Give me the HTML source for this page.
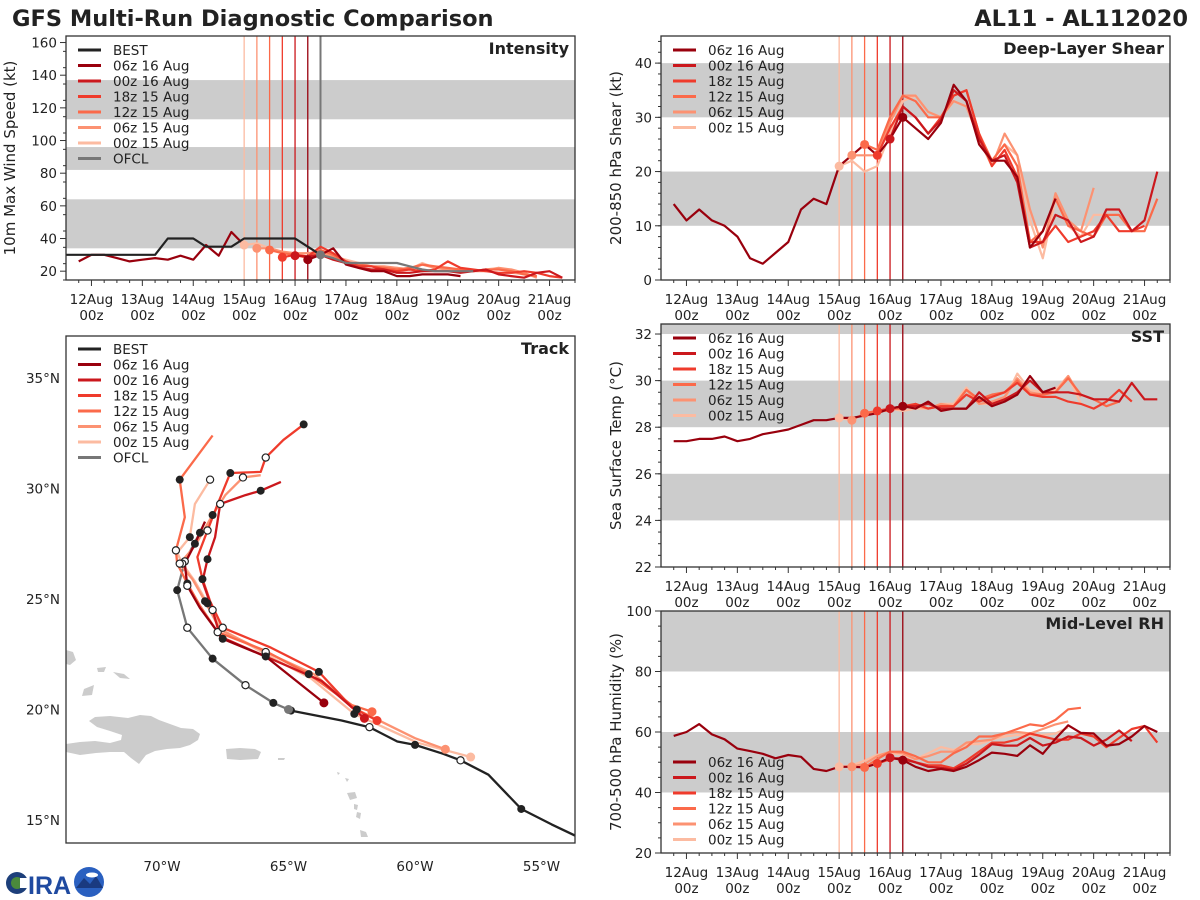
<!DOCTYPE html>
<html><head><meta charset="utf-8"><style>
html,body{margin:0;padding:0;background:#fff;}
svg{display:block;font-family:"DejaVu Sans","Liberation Sans",sans-serif;}
</style></head><body>
<svg id="chart" width="1200" height="900" viewBox="0 0 1200 900" xmlns="http://www.w3.org/2000/svg">
<text x="12" y="26" font-size="22.5" font-weight="bold" fill="#222">GFS Multi-Run Diagnostic Comparison</text>
<text x="1188" y="26" font-size="22.5" font-weight="bold" fill="#222" text-anchor="end">AL11 - AL112020</text>
<g>
<circle cx="17" cy="883" r="11" fill="#1d3f7a"/><circle cx="17" cy="883" r="6" fill="#4a8a3c"/><rect x="20" y="878" width="9" height="10" fill="#fff"/>
<text x="28" y="894" font-size="25" font-weight="bold" fill="#1f4aa0" font-family="Liberation Sans,sans-serif">IRA</text>
<circle cx="89" cy="882" r="15" fill="#2a60c0"/><path d="M76 888 L84 878 L90 884 L96 876 L103 888 Z" fill="#1a3a80"/>
<ellipse cx="92" cy="875" rx="6" ry="2.5" fill="#fff"/>
</g>
</svg>
<script>
// ---------- shared run metadata ----------
const runNames=['06z 16 Aug','00z 16 Aug','18z 15 Aug','12z 15 Aug','06z 15 Aug','00z 15 Aug'];
const runColors=['#99000d','#cb181d','#ef3b2c','#fb6a4a','#fc9272','#fcbba1'];
const runStarts=[4.25,4.0,3.75,3.5,3.25,3.0];
const xTickDays=[0,1,2,3,4,5,6,7,8,9];
const xTickLabels=['12Aug','13Aug','14Aug','15Aug','16Aug','17Aug','18Aug','19Aug','20Aug','21Aug'];

// ---------- intensity (kt), 6-hourly from start time ----------
const intHistStart=-0.25;
const intHist=[26,30,30,28,26,27,28,27,29.5,27,36,29.5,44,36];
const intBestStart=-0.5;
const intBest=[30,30,30,30,30,30,30,30,40,40,40,35,35,35,40,40,40,40,40,35,30];
const intOfclStart=4.5;
const intOfcl=[30,28,25,25,25,25,25,23,21,20,20,20,20];
const int06z16=[27,30,34,24,22,20,20,17,17,18,18,18,17];
const int00z16=[29.5,29,30,27,25,22,21,21,19,19,20,20,20,19,20,21,18,17,16,19,20,16];
const int18z15=[28.5,30,29,35,31,26,23,23,21,20,21,20,21,26,22,21,20,19,19,20,19,17,16];
const int12z15=[33,31,30,28,33,30,25,24,23,22,21,22,24,23,22,21,20,21,21,20,18,17];
const int06z15=[34,34,32,31,31,32,29,26,24,23,23,22,21,24,22,21,20,20,20,22,21,19,16];
const int00z15=[36,37,34,31,30,31,30,29,27,25,23,22,22,21,25,22,21,20,20,21,22,19,18,17];

// ---------- shear (kt) ----------
const shrHistStart=-0.25;
const shrHist=[14,11,13,11,10,8,4,3,5,7,13,15,14,21,23,25,23,26,30];
const shr06z16=[30,28,26,29,36,33,25,22,22,19,6,9,15];
const shr00z16=[26,32,30,27,29.5,35,33,26,22,23,18,6,7,12,11,7,8,13,13,9,11,20];
const shr18z15=[23,28,32,30,27,30,34,35,27,21,24,19,7,7,10,7,8,9,12,9,9,10];
const shr12z15=[25,24,30,34,33,30,30,34,35,27,22,25,21,7,9,15,10,9,8,12,12,9,9,15];
const shr06z15=[23,23,23,29,34,34,31,30,33,32,26,21,27,23,13,6,16,11,9,17];
const shr00z15=[21,22,20,21,27,33,34,31,30,33,32,27,22,25,23,11,4,15,10,8,12,12];

// ---------- SST (C) ----------
const sstHistStart=-0.25;
const sstHist=[27.4,27.4,27.5,27.5,27.6,27.4,27.5,27.7,27.8,27.9,28.1,28.3,28.3,28.4,28.4,28.5,28.6,28.8,28.9];
const sst06z16=[28.9,28.8,29.1,28.7,28.8,28.8,29.3,28.9,29.1,29.4,30.2,29.5,29.7];
const sst00z16=[28.8,28.9,28.9,29.0,28.8,28.8,28.8,29.5,29.0,29.2,29.5,30.0,29.5,29.5,29.5,29.4,29.2,29.2,29.1,29.9,29.2,29.2];
const sst18z15=[28.7,28.8,28.9,29.0,28.8,28.9,28.9,29.4,29.1,29.3,29.5,29.9,29.4,29.3,29.3,29.1,29.0,28.8,29.1,29.6,29.1];
const sst12z15=[28.6,28.7,28.8,28.8,29.0,28.8,28.9,28.9,29.6,29.2,29.4,29.5,30.0,29.4,29.4,29.5,30.1,29.4,29.2,28.9,29.1];
const sst06z15=[28.3,28.6,28.7,28.7,28.9,28.9,28.8,29.0,28.9,29.6,29.0,29.1,29.3,30.1,29.5,29.4,29.5,30.2,29.3];
const sst00z15=[28.4,28.3,28.6,28.7,28.8,28.7,28.8,28.8,29.0,29.0,29.7,29.0,29.0,29.2,30.3,29.6,29.5,29.6,30.2,29.0];

// ---------- RH (%) ----------
const rhHistStart=-0.25;
const rhHist=[58.7,60,62.6,59.2,57.6,54.5,53.7,52.8,51.3,52.4,51.8,47.8,47.1,48.5,48.5,48.3,49.6,51.5,50.7];
const rh06z16=[50.7,48.5,47.1,47.8,47.1,48.5,50.7,53.2,52.8,52.1,55.6,52.8,57.8,62.2,59.7,59.5,55.5,56,58.5,62,60];
const rh00z16=[51.5,51,50,48.5,48.2,47.5,49.5,52.5,56,55.5,55.5,58,55.5,56.5,58.5,58,55.5,57.5,60.5,57];
const rh18z15=[49.6,51,51.5,50,49,49,48,50.5,53.5,56.5,56.5,57.5,59.5,58.5,57.5,57.5,59.5,58.5,55,58,61,62,56.5];
const rh12z15=[48.3,51,53.5,53.5,52,50,50,53,55,58.5,58.5,59.5,61,62.5,62,64,67.5,68];
const rh06z15=[48.5,49.5,52,53.5,53,51,52,53.5,53.5,56.5,57,57.5,59.5,60,59.5,61,62.5,63.5];
const rh00z15=[48.5,49,50.5,52.5,53,52.5,51,53,55,54,56,56,57.5,58.5,59,59,59,59.5,61.5];

// ---------- track (lon, lat) ----------
const bestLon=[-53.5,-54.6,-55.8,-57.1,-58.2,-58.9,-60.0,-60.7,-61.8,-62.9,-64.9,-65.0];
const bestLat=[14.2,14.8,15.5,17.05,17.7,18.0,18.4,18.55,19.2,19.5,19.95,20.0];
const ofclLon=[-65.0,-65.6,-66.7,-68.0,-69.0,-69.4,-69.1,-68.5];
const ofclLat=[20.0,20.3,21.1,22.3,23.7,25.4,26.7,28.0];
const trk06z16Lon=[-63.6,-65.9,-67.6,-68.5,-69.0,-69.1,-68.7,-68.3];
const trk06z16Lat=[20.3,22.4,23.2,24.6,25.6,26.6,27.5,28.5];
const trk00z16Lon=[-62.0,-63.7,-65.9,-67.7,-68.0,-68.4,-68.2,-67.9,-67.7,-66.7,-66.1,-65.3];
const trk00z16Lat=[19.6,21.3,22.4,23.3,24.5,25.8,26.8,27.8,29.3,29.7,29.9,30.3];
const trk18z15Lon=[-61.5,-62.5,-63.8,-65.7,-67.6,-68.1,-68.4,-68.6,-68.2,-67.8,-67.3,-66.1,-65.9,-65.2,-64.4];
const trk18z15Lat=[19.5,20.1,21.7,22.8,23.7,24.9,25.9,26.9,28.1,29.3,30.7,30.75,31.4,32.2,32.9];
const trk12z15Lon=[-61.7,-62.5,-64.2,-66.0,-67.8,-68.5,-69.0,-69.4,-69.45,-69.1,-69.3,-68.0];
const trk12z15Lat=[19.9,20.2,21.6,22.7,23.5,24.7,25.7,26.6,27.2,28.7,30.4,32.4];
const trk06z15Lon=[-58.8,-60.0,-62.3,-64.0,-65.9,-67.7,-68.3,-68.8,-69.3,-68.7,-68.0,-67.5,-66.8,-66.1];
const trk06z15Lat=[18.2,18.7,20.0,21.6,22.6,23.6,24.9,25.9,26.6,27.4,28.8,29.7,30.5,30.6];
const trk00z15Lon=[-57.8,-59.9,-62.4,-64.1,-65.9,-67.6,-68.2,-68.7,-69.2,-69.4,-68.9,-68.7,-68.1];
const trk00z15Lat=[17.85,18.5,19.8,21.4,22.5,23.6,24.8,25.8,26.6,27.1,27.8,29.3,30.4];
const lonTicks=[-70,-65,-60,-55];
const latTicks=[15,20,25,30,35];

const NS='http://www.w3.org/2000/svg';
const svg=document.getElementById('chart');
function el(tag,parent){const e=document.createElementNS(NS,tag);parent.appendChild(e);return e;}

function panel(p){
  const g=el('g',svg);
  
  
  const X=t=>p.x0+(t+0.5)/10*p.w;
  const Y=v=>p.y0+p.h-(v-p.ymin)/(p.ymax-p.ymin)*p.h;
  const cid='clip-'+p.name;
  const cp=el('clipPath',g);cp.setAttribute('id',cid);
  const cr=el('rect',cp);cr.setAttribute('x',p.x0);cr.setAttribute('y',p.y0);cr.setAttribute('width',p.w);cr.setAttribute('height',p.h);
  const inner=el('g',g);inner.setAttribute('clip-path','url(#'+cid+')');
  p.bands.forEach(b=>{
    const r=el('rect',inner);
    
    
    const y1=Y(Math.min(b[1],p.ymax+5)),y2=Y(b[0]);
    r.setAttribute('x',p.x0);r.setAttribute('y',y1);r.setAttribute('width',p.w);r.setAttribute('height',y2-y1);r.setAttribute('fill','#cccccc');
  });
  runStarts.slice().reverse().forEach((t,k)=>{
    const i=runStarts.length-1-k;
    const l=el('line',inner);
    
    
    l.setAttribute('x1',X(t));l.setAttribute('x2',X(t));l.setAttribute('y1',p.y0);l.setAttribute('y2',p.y0+p.h);
    l.setAttribute('stroke',runColors[i]);l.setAttribute('stroke-width',1.3);
  });
  if(p.ofclLine!==undefined){
    const l=el('line',inner);
    
    
    l.setAttribute('x1',X(p.ofclLine));l.setAttribute('x2',X(p.ofclLine));l.setAttribute('y1',p.y0);l.setAttribute('y2',p.y0+p.h);
    l.setAttribute('stroke','#777');l.setAttribute('stroke-width',2);
  }
  function series(start,vals,color,name){
    const pl=el('polyline',inner);
    
    
    pl.setAttribute('points',vals.map((v,i)=>X(start+i*0.25).toFixed(1)+','+Y(v).toFixed(1)).join(' '));
    pl.setAttribute('fill','none');pl.setAttribute('stroke',color);pl.setAttribute('stroke-width',2.2);pl.setAttribute('stroke-linejoin','round');
  }
  function dot(t,v,color,name){
    const c=el('circle',inner);
    
    
    c.setAttribute('cx',X(t));c.setAttribute('cy',Y(v));c.setAttribute('r',4.5);c.setAttribute('fill',color);
  }
  for(let i=runStarts.length-1;i>=0;i--){series(runStarts[i],p.runs[i],runColors[i],'series-'+runNames[i].replace(/ /g,'-'));}
  if(p.hist) series(p.histStart,p.hist,runColors[0],'analysis-history-line');
  if(p.best) series(p.bestStart,p.best,'#222','best-track-line');
  if(p.ofcl) series(p.ofclStart,p.ofcl,'#777','ofcl-line');
  for(let i=runStarts.length-1;i>=0;i--){dot(runStarts[i],p.runs[i][0],runColors[i],'init-marker');}
  if(p.ofcl) dot(p.ofclStart,p.ofcl[0],'#777','ofcl-init-marker');
  const fr=el('rect',g);
  
  
  fr.setAttribute('x',p.x0);fr.setAttribute('y',p.y0);fr.setAttribute('width',p.w);fr.setAttribute('height',p.h);fr.setAttribute('fill','none');fr.setAttribute('stroke','#333');fr.setAttribute('stroke-width',1.3);
  for(let t=-0.25;t<=9.5;t+=0.25){
    const major=Math.abs(t-Math.round(t))<1e-6;
    const l=el('line',g);l.setAttribute('x1',X(t));l.setAttribute('x2',X(t));l.setAttribute('y1',p.y0+p.h);l.setAttribute('y2',p.y0+p.h+(major?6:3));l.setAttribute('stroke','#333');
  }
  xTickDays.forEach((d,i)=>{
    const tx=el('text',g);
    
    
    tx.setAttribute('x',X(d));tx.setAttribute('y',p.y0+p.h+24);tx.setAttribute('font-size',13.5);tx.setAttribute('text-anchor','middle');tx.setAttribute('fill','#222');
    tx.textContent=xTickLabels[i];
    const tz=el('text',g);
    
    
    tz.setAttribute('x',X(d));tz.setAttribute('y',p.y0+p.h+40);tz.setAttribute('font-size',13.5);tz.setAttribute('text-anchor','middle');tz.setAttribute('fill','#222');
    tz.textContent='00z';
  });
  for(let v=p.ymin;v<=p.ymax+1e-6;v+=p.minor){
    const l=el('line',g);l.setAttribute('x1',p.x0);l.setAttribute('x2',p.x0-3);l.setAttribute('y1',Y(v));l.setAttribute('y2',Y(v));l.setAttribute('stroke','#333');
  }
  p.majors.forEach(v=>{
    const l=el('line',g);l.setAttribute('x1',p.x0);l.setAttribute('x2',p.x0-6);l.setAttribute('y1',Y(v));l.setAttribute('y2',Y(v));l.setAttribute('stroke','#333');
    const tx=el('text',g);
    
    
    tx.setAttribute('x',p.x0-9);tx.setAttribute('y',Y(v)+5);tx.setAttribute('font-size',13.5);tx.setAttribute('text-anchor','end');tx.setAttribute('fill','#222');
    tx.textContent=v;
  });
  const yl=el('text',g);
  
  
  const cy=p.y0+p.h/2;
  yl.setAttribute('x',p.ylx);yl.setAttribute('y',cy);yl.setAttribute('font-size',15);yl.setAttribute('text-anchor','middle');yl.setAttribute('fill','#222');
  yl.setAttribute('transform','rotate(-90 '+p.ylx+' '+cy+')');
  yl.textContent=p.ylabel;
  const ti=el('text',g);
  
  
  ti.setAttribute('x',p.x0+p.w-6);ti.setAttribute('y',p.y0+18);ti.setAttribute('font-size',16);ti.setAttribute('font-weight','bold');ti.setAttribute('text-anchor','end');ti.setAttribute('fill','#222');
  ti.textContent=p.title;
  legend(g,p.x0+12,p.legY,p.withBest);
}

function legend(g,x,y,withBest){
  const names=withBest?['BEST'].concat(runNames,['OFCL']):runNames;
  const cols=withBest?['#222'].concat(runColors,['#777']):runColors;
  const lg=el('g',g);
  
  
  names.forEach((n,i)=>{
    const yy=y+i*15.5;
    const l=el('line',lg);
    
    
    l.setAttribute('x1',x);l.setAttribute('x2',x+23);l.setAttribute('y1',yy);l.setAttribute('y2',yy);l.setAttribute('stroke',cols[i]);l.setAttribute('stroke-width',3);
    const t=el('text',lg);
    
    
    t.setAttribute('x',x+35);t.setAttribute('y',yy+5);t.setAttribute('font-size',13.5);t.setAttribute('fill','#222');
    t.textContent=n;
  });
}

panel({name:'intensity',x0:66,y0:36,w:509,h:244,ymin:14.6,ymax:164,bands:[[34,64],[82,96],[113,137]],majors:[20,40,60,80,100,120,140,160],minor:10,
  ylabel:'10m Max Wind Speed (kt)',ylx:15,title:'Intensity',legY:50,withBest:true,ofclLine:4.5,
  runs:[int06z16,int00z16,int18z15,int12z15,int06z15,int00z15],hist:intHist,histStart:intHistStart,best:intBest,bestStart:intBestStart,ofcl:intOfcl,ofclStart:intOfclStart});
panel({name:'shear',x0:661,y0:36,w:509,h:244,ymin:0,ymax:45,bands:[[10,20],[30,40]],majors:[0,10,20,30,40],minor:2,
  ylabel:'200-850 hPa Shear (kt)',ylx:621,title:'Deep-Layer Shear',legY:50,withBest:false,
  runs:[shr06z16,shr00z16,shr18z15,shr12z15,shr06z15,shr00z15],hist:shrHist,histStart:shrHistStart});
panel({name:'sst',x0:661,y0:324,w:509,h:243,ymin:22,ymax:32.43,bands:[[24,26],[28,30],[32,34]],majors:[22,24,26,28,30,32],minor:0.5,
  ylabel:'Sea Surface Temp (°C)',ylx:621,title:'SST',legY:338,withBest:false,
  runs:[sst06z16,sst00z16,sst18z15,sst12z15,sst06z15,sst00z15],hist:sstHist,histStart:sstHistStart});
panel({name:'rh',x0:661,y0:611,w:509,h:242,ymin:20,ymax:100,bands:[[40,60],[80,100]],majors:[20,40,60,80,100],minor:5,
  ylabel:'700-500 hPa Humidity (%)',ylx:621,title:'Mid-Level RH',legY:762,withBest:false,
  runs:[rh06z16,rh00z16,rh18z15,rh12z15,rh06z15,rh00z15],hist:rhHist,histStart:rhHistStart});

// ---------- track map ----------
(function(){
  const x0=66,y0=336,w=509,h=507;
  const LX=lon=>162+(lon+70)*25.3;
  const LY=lat=>378+(35-lat)*22.1;
  const g=el('g',svg);
  
  
  const cp=el('clipPath',g);cp.setAttribute('id','clip-track');
  const cr=el('rect',cp);cr.setAttribute('x',x0);cr.setAttribute('y',y0);cr.setAttribute('width',w);cr.setAttribute('height',h);
  const inner=el('g',g);inner.setAttribute('clip-path','url(#clip-track)');
  const land=[
   ['hispaniola','66,744 80,742 95,741 110,743 121,740 122,735 110,731 97,727 89,721 95,717 110,716 128,718 140,715 151,716 159,720 170,724 181,728 193,729 200,734 198,740 190,745 180,748 167,749 155,751 146,755 139,764 131,758 124,752 110,752 96,753 80,755 66,752'],
   ['puerto-rico','226,749 240,748 255,749 261,752 258,759 240,760 227,759'],
   ['cuba-tip','66,650 73,652 76,660 70,665 66,664'],
   ['bahamas-1','97,668 106,667 104,672 98,672'],
   ['bahamas-2','113,672 124,674 130,679 120,678'],
   ['bahamas-3','84,689 94,685 92,695 82,696'],
   ['virgin-islands','278,758 285,758 284,760 278,760'],
   ['guadeloupe','347,793 355,792 357,798 350,800'],
   ['dominica','354,804 358,805 357,810 354,809'],
   ['martinique','357,812 361,813 360,819 356,817'],
   ['st-lucia','360,830 366,832 368,837 361,837'],
   ['antigua','345,778 349,779 347,782'],
   ['st-kitts','337,772 340,773 338,775']
  ];
  land.forEach(d=>{
    const pg=el('polygon',inner);
    
    
    pg.setAttribute('points',d[1]);pg.setAttribute('fill','#cccccc');
  });
  function trk(lons,lats,color,name){
    const pl=el('polyline',inner);
    
    
    pl.setAttribute('points',lons.map((v,i)=>LX(v).toFixed(1)+','+LY(lats[i]).toFixed(1)).join(' '));
    pl.setAttribute('fill','none');pl.setAttribute('stroke',color);pl.setAttribute('stroke-width',2.3);pl.setAttribute('stroke-linejoin','round');
  }
  function marks(lons,lats,name,startColor){
    lons.forEach((v,i)=>{
      const c=el('circle',inner);
      
      
      c.setAttribute('cx',LX(v));c.setAttribute('cy',LY(lats[i]));
      if(i===0&&startColor){c.setAttribute('r',4.5);c.setAttribute('fill',startColor);}
      else if(i%2===0){c.setAttribute('r',3.6);c.setAttribute('fill','#fff');c.setAttribute('stroke','#222');c.setAttribute('stroke-width',1.2);}
      else{c.setAttribute('r',4);c.setAttribute('fill','#222');}
    });
  }
  const runs=[[trk06z16Lon,trk06z16Lat],[trk00z16Lon,trk00z16Lat],[trk18z15Lon,trk18z15Lat],[trk12z15Lon,trk12z15Lat],[trk06z15Lon,trk06z15Lat],[trk00z15Lon,trk00z15Lat]];
  trk(bestLon,bestLat,'#222','best-track');
  trk(ofclLon,ofclLat,'#777','ofcl-track');
  for(let i=runs.length-1;i>=0;i--) trk(runs[i][0],runs[i][1],runColors[i],'track-'+runNames[i].replace(/ /g,'-'));
  marks(bestLon.slice(0,-1).filter((v,i)=>i%2===0),bestLat.slice(0,-1).filter((v,i)=>i%2===0),'best-track-marker',null);
  marks(ofclLon,ofclLat,'ofcl-marker','#777');
  for(let i=runs.length-1;i>=0;i--) marks(runs[i][0].filter((v,k)=>k%2===0),runs[i][1].filter((v,k)=>k%2===0),'track-marker',runColors[i]);
  const fr=el('rect',g);
  
  
  fr.setAttribute('x',x0);fr.setAttribute('y',y0);fr.setAttribute('width',w);fr.setAttribute('height',h);fr.setAttribute('fill','none');fr.setAttribute('stroke','#333');fr.setAttribute('stroke-width',1.3);
  lonTicks.forEach(v=>{
    const t=el('text',g);
    
    
    t.setAttribute('x',LX(v));t.setAttribute('y',871);t.setAttribute('font-size',13.5);t.setAttribute('text-anchor','middle');t.setAttribute('fill','#222');
    t.textContent=Math.abs(v)+'°W';
  });
  latTicks.forEach(v=>{
    const t=el('text',g);
    
    
    t.setAttribute('x',60);t.setAttribute('y',LY(v)+5);t.setAttribute('font-size',13.5);t.setAttribute('text-anchor','end');t.setAttribute('fill','#222');
    t.textContent=v+'°N';
  });
  const ti=el('text',g);
  
  
  ti.setAttribute('x',x0+w-6);ti.setAttribute('y',y0+18);ti.setAttribute('font-size',16);ti.setAttribute('font-weight','bold');ti.setAttribute('text-anchor','end');ti.setAttribute('fill','#222');
  ti.textContent='Track';
  legend(g,x0+12,349,true);
})();
</script>
</body></html>
